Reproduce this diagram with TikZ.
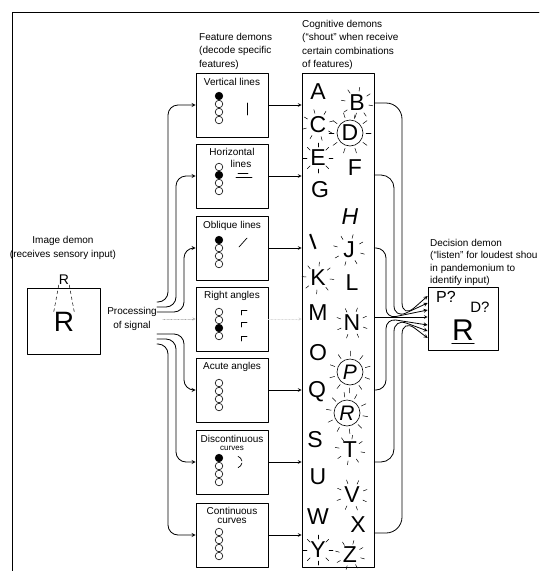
\documentclass[tikz,border=0pt]{standalone}
\usepackage{fontspec}
\setmainfont{Liberation Sans}
\begin{document}
\begin{tikzpicture}[x=1pt,y=-1pt,font=\fontsize{10}{13.3}\selectfont,line join=round,line cap=round,>=stealth,
	fbox/.style={draw,line width=.7pt,minimum width=72pt,minimum height=64pt},
	lab/.style={inner sep=0pt,align=center},
	big/.style={inner sep=0pt,font=\fontsize{23}{23}\selectfont},
	conn/.style={->,line width=.8pt,rounded corners=10pt},
	ray/.style={line width=.5pt}]
\useasboundingbox (0,0) rectangle (539,571);
\draw[line width=.8pt] (12,571) -- (12,12) -- (539,12);
% image demon
\node[lab] (imgt) at (63,248) {Image demon\\(receives sensory input)};
\node[draw,line width=.7pt,minimum width=73pt,minimum height=66pt] (img) at (63.5,321) {};
\node[inner sep=0pt,font=\fontsize{28}{28}\selectfont] (bigR) at (64,322) {R};
\node[inner sep=0pt,font=\fontsize{14}{14}\selectfont] (smR) at (64,280) {R};
\draw[dashed,line width=.5pt] (smR.south west) -- (bigR.north west) (smR.south east) -- (bigR.north east);
\node[lab] (proc) at (132,319) {Processing\\of signal};
% feature demons
\node[lab,anchor=north west,align=left] (fhead) at (199,33) {Feature demons\\(decode specific\\features)};
\foreach \n/\y/\c/\f in {vl/105/96/1, hl/176/167/2, ol/248/240/1, ra/319/312/3, aa/390/383/0, dc/462/458/1, cc/535/532/0}{
	\node[fbox] (\n) at (232,\y) {};
	\foreach \k in {0,...,3} \draw[line width=.6pt] (219,\c+8*\k) circle (3.8);
	\ifnum\f>0 \fill (219,\c+8*\f-8) circle (3.8); \fi
}
\node[lab] (vlt) at (232,82) {Vertical lines};
\node[lab] (hlt) at (232,152) {Horizontal};
\node[lab] (hlt2) at (241,164) {lines};
\node[lab] (olt) at (232,226) {Oblique lines};
\node[lab] (rat) at (232,296) {Right angles};
\node[lab] (aat) at (232,367) {Acute angles};
\node[lab] (dct) at (232,439) {Discontinuous};
\node[lab,font=\fontsize{8}{8}\selectfont] (dct2) at (232,448) {curves};
\node[lab] (cct) at (232,511) {Continuous};
\node[lab] (cct2) at (232,521) {curves};
\draw[line width=.7pt] (247,103) -- (247,115);
\draw[line width=.7pt] (238,173) -- (248,173) (236,177) -- (252,177);
\draw[line width=.7pt] (239,247) -- (247,238);
\foreach \y in {310,322,336} \draw[line width=.7pt] (241,\y+5) -- (241,\y) -- (247,\y);
\draw[line width=.7pt] (236,462) ++(70:6) arc (70:10:6) (236,462) ++(-10:6) arc (-10:-70:6);
% processing to features
\foreach \n/\s/\v in {vl/302/168, hl/307/176, ol/312/184, aa/334/184, dc/339/176, cc/344/168}
	\draw[conn] (proc.east |- 0,\s) -| (\n.west -| \v,0) -- (\n.west);
\draw[->,gray!70,densely dotted] ([xshift=6pt]proc.east) -- (ra.west);
% cognitive demons
\node[lab,anchor=north west,align=left] (chead) at (302,20) {Cognitive demons\\(``shout'' when receive\\certain combinations\\of features)};
\node[draw,line width=.7pt,minimum width=72pt,minimum height=494pt] (cog) at (338,320) {};
\foreach \n in {vl,hl,ol,aa,dc,cc} \draw[->,line width=.7pt] (\n.east) -- (\n.east -| cog.west);
\draw[->,gray!35,densely dotted] (ra.east) -- (ra.east -| cog.west);
\foreach \l/\x/\y in {A/318/92, B/357/103, C/318/125, D/350/133, E/318/158, F/355/168, G/320/190, J/349/250,
	K/318/278, L/352/283, M/318/313, N/352/323, O/318/353, Q/317/392, S/315/440, T/350/450, U/318/477,
	V/352/495, W/318/517, X/358/525, Y/318/550, Z/350/555}
	\node[big] (l\l) at (\x,\y) {\l};
\node[big,font=\fontsize{23}{23}\selectfont\itshape] (lH) at (350,217) {H};
\node[big,rotate=20] (lI) at (313,242) {I};
\node[big,font=\fontsize{21}{21}\selectfont\itshape] (lP) at (350,372) {P};
\node[big,font=\fontsize{21}{21}\selectfont\itshape] (lR) at (347,413) {R};
\foreach \l in {D,P,R} \draw[line width=.6pt] (l\l) circle (13);
\foreach \l/\r/\o in {B/12/10, C/12/30, E/11/0, J/12/15, K/12/5, N/12/20, T/11/10, V/12/25, Y/11/0, Z/11/15}
	\foreach \a in {0,45,...,315} \draw[ray] (l\l) ++(\a+\o:\r) -- ++(\a+\o:4);
\foreach \l/\o in {D/0, P/20, R/10}
	\foreach \a in {0,36,...,324} \draw[ray] (l\l) ++(\a+\o:16) -- ++(\a+\o:5);
% decision demon
\node[lab,anchor=north west,align=left,font=\fontsize{10}{12.5}\selectfont] (dhead) at (430,239) {Decision demon\\(``listen'' for loudest shou\\in pandemonium to\\identify input)};
\node[draw,line width=.7pt,minimum width=70pt,minimum height=63pt] (dec) at (463,318.5) {};
\node[inner sep=0pt,font=\fontsize{16}{16}\selectfont] (pq) at (446,297) {P?};
\node[inner sep=0pt,font=\fontsize{15}{15}\selectfont] (dq) at (480,307) {D?};
\node[inner sep=0pt,font=\fontsize{30}{30}\selectfont] (decR) at (463,330) {R};
\draw[line width=1pt] ([yshift=-3pt]decR.south west) -- ([yshift=-3pt]decR.south east);
\foreach \s/\v/\e/\r in {103/402/296/16, 175/394/303/13, 248/386/310/10, 390/386/325/10, 462/394/331/13, 533/402/338/16}
	\draw[conn,rounded corners=\r pt] (cog.east |- 0,\s) -| (dec.west -| \v,\e) -- (dec.west |- 0,\e);
\draw[->,line width=.6pt] (cog.east |- 0,317) -- (dec.west |- 0,317);
\end{tikzpicture}
\end{document}
